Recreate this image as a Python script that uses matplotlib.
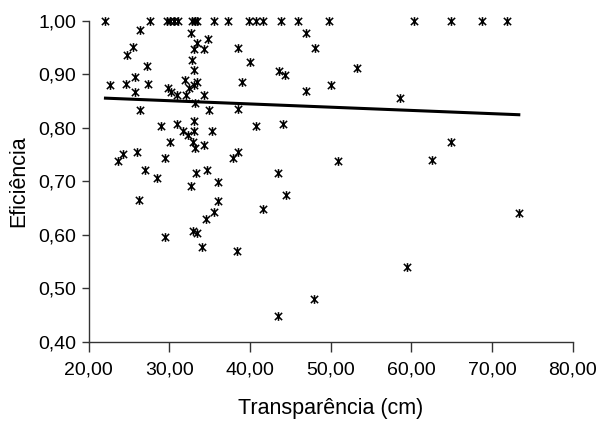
import matplotlib
matplotlib.use("Agg")
import matplotlib.pyplot as plt
import numpy as np
from matplotlib.path import Path
from matplotlib.ticker import FuncFormatter

# points sitting on the 1,00 line
TOP_X = [22.1, 27.6, 29.7, 30.1, 30.6, 31.1, 32.8, 33.2, 33.5, 35.5, 37.3,
         39.9, 40.7, 41.6, 43.9, 45.9, 49.8, 60.3, 64.9, 68.7, 71.9]

# remaining points (transparencia, eficiencia)
PTS_X = [26.4, 25.5, 24.8, 27.3, 22.7, 24.7, 25.7, 25.7, 27.4, 29.9,
         30.2, 31.0, 31.9, 32.4, 33.1, 33.4, 32.1, 34.3, 32.7, 33.4,
         33.1, 34.3, 34.8, 32.8, 33.1, 33.2, 34.9, 26.4, 29.0, 31.0,
         31.7, 32.3, 33.1, 33.1, 33.0, 33.2, 34.3, 35.3, 30.1, 29.5,
         28.5, 33.3, 34.7, 32.7, 36.1, 23.6, 24.3, 26.0, 27.0, 26.3,
         29.5, 34.6, 35.5, 36.0, 33.0, 33.5, 34.1, 38.5, 40.0, 39.0,
         43.6, 44.4, 47.0, 48.1, 47.0, 50.0, 38.5, 40.8, 44.1, 37.9,
         38.5, 43.5, 50.9, 41.6, 44.5, 38.4, 47.9, 43.5, 53.3, 58.6,
         62.6, 64.9, 73.3, 59.5]
PTS_Y = [0.983, 0.951, 0.935, 0.916, 0.879, 0.881, 0.894, 0.867, 0.881, 0.874,
         0.867, 0.861, 0.888, 0.874, 0.879, 0.886, 0.861, 0.861, 0.977, 0.958,
         0.946, 0.946, 0.965, 0.927, 0.907, 0.846, 0.833, 0.833, 0.803, 0.807,
         0.793, 0.787, 0.813, 0.793, 0.774, 0.762, 0.767, 0.793, 0.774, 0.743,
         0.706, 0.715, 0.720, 0.691, 0.699, 0.737, 0.751, 0.755, 0.721, 0.665,
         0.595, 0.629, 0.643, 0.662, 0.606, 0.604, 0.577, 0.948, 0.923, 0.885,
         0.906, 0.899, 0.976, 0.948, 0.869, 0.879, 0.835, 0.803, 0.807, 0.743,
         0.755, 0.715, 0.737, 0.648, 0.675, 0.569, 0.480, 0.449, 0.911, 0.855,
         0.740, 0.774, 0.640, 0.540]

# linear trend line
TREND_SLOPE = -0.000605
TREND_INTERCEPT = 0.8684

x = np.array(TOP_X + PTS_X)
y = np.array([1.0] * len(TOP_X) + PTS_Y)

plt.rcParams["font.family"] = ["Liberation Sans Narrow", "Liberation Sans", "DejaVu Sans"]

# excel style star: an X with a vertical bar
star = Path(
    [(-1, -1), (1, 1), (-1, 1), (1, -1), (0, -1.2), (0, 1.2)],
    [Path.MOVETO, Path.LINETO, Path.MOVETO, Path.LINETO, Path.MOVETO, Path.LINETO],
)

fig = plt.figure(figsize=(5.98, 4.37), dpi=100)
ax = fig.add_axes([0.148, 0.218, 0.810, 0.735])

ax.plot(x, y, linestyle="none", marker=star, markersize=6.3,
        markeredgewidth=1.1, color="black", clip_on=False)

xl = np.array([x.min(), x.max()])
ax.plot(xl, TREND_INTERCEPT + TREND_SLOPE * xl, color="black", linewidth=2.2)

ax.set_xlim(20, 80)
ax.set_ylim(0.40, 1.00)
ax.set_xticks(np.arange(20, 81, 10))
ax.set_yticks(np.arange(0.40, 1.001, 0.10))
fmt = FuncFormatter(lambda v, p: f"{v:.2f}".replace(".", ","))
ax.xaxis.set_major_formatter(fmt)
ax.yaxis.set_major_formatter(fmt)

for s in ["top", "right"]:
    ax.spines[s].set_visible(False)
for s in ["left", "bottom"]:
    ax.spines[s].set_color("#333333")
    ax.spines[s].set_linewidth(1.0)

ax.tick_params(axis="x", direction="out", length=7, width=1, color="#333333",
               labelsize=14, pad=7)
ax.tick_params(axis="y", direction="out", length=5, width=1, color="#333333",
               labelsize=14, pad=4)

ax.set_xlabel("Transparência (cm)", fontsize=15.5, labelpad=14)
ax.set_ylabel("Eficiência", fontsize=15.5, labelpad=6)

fig.savefig("out.png", dpi=100)
